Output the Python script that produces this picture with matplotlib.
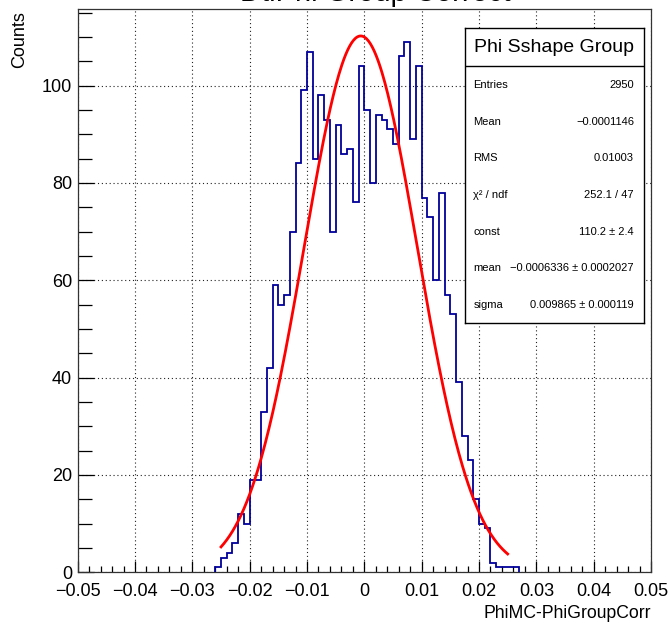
import numpy as np
import matplotlib
matplotlib.use('Agg')
import matplotlib.pyplot as plt
from matplotlib.ticker import MultipleLocator, FuncFormatter

plt.rcParams['font.family'] = ['Liberation Sans', 'DejaVu Sans']

# histogram: 0.001 wide bins, first filled bin starts at -0.026
first_edge = -0.026
bin_width = 0.001
counts = [1, 3, 4, 6, 12, 10, 19, 19, 33, 42,
          59, 55, 57, 70, 84, 99, 107, 85, 98, 93,
          70, 92, 86, 87, 76, 104, 95, 80, 94, 93,
          91, 88, 106, 109, 89, 104, 77, 73, 60, 78,
          57, 53, 39, 28, 23, 15, 10, 9, 2, 1,
          1, 1, 1]

# gaussian fit result
fit_const = 110.2
fit_mean = -0.0006336
fit_sigma = 0.009865
fit_lo, fit_hi = -0.025, 0.025

stat_names = ['Entries', 'Mean', 'RMS', 'χ² / ndf', 'const', 'mean', 'sigma']
stat_values = ['2950', '−0.0001146', '0.01003', '252.1 / 47', '110.2 ± 2.4',
               '−0.0006336 ± 0.0002027', '0.009865 ± 0.000119']

W, H = 669, 623
fig = plt.figure(figsize=(W / 100, H / 100), dpi=100)
fig.patch.set_facecolor('white')

# frame in pixels: left, right, top, bottom
fl, fr, ft, fb = 77.7, 651.0, 8.7, 572.3
ax = fig.add_axes([fl / W, 1 - fb / H, (fr - fl) / W, (fb - ft) / H])

edges = first_edge + bin_width * np.arange(len(counts) + 1)
ax.stairs(counts, edges, color='#000099', lw=1.3, baseline=0, zorder=3)

xf = np.linspace(fit_lo, fit_hi, 300)
yf = fit_const * np.exp(-0.5 * ((xf - fit_mean) / fit_sigma) ** 2)
ax.plot(xf, yf, color='#ff0000', lw=2.0, zorder=4)

ax.set_xlim(-0.05, 0.05)
ax.set_ylim(0, 115.8)

ax.xaxis.set_major_locator(MultipleLocator(0.01))
ax.xaxis.set_minor_locator(MultipleLocator(0.002))
ax.yaxis.set_major_locator(MultipleLocator(20))
ax.yaxis.set_minor_locator(MultipleLocator(5))


def xfmt(v, pos):
    if abs(v) < 1e-9:
        return '0'
    return f'{v:.2f}'.replace('-', '−')


ax.xaxis.set_major_formatter(FuncFormatter(xfmt))
ax.yaxis.set_major_formatter(FuncFormatter(lambda v, pos: f'{v:.0f}'))

ax.tick_params(axis='both', which='both', direction='in', top=False, right=False,
               labelsize=13, width=0.9, color='black')
ax.tick_params(axis='x', which='major', length=8, pad=7.5)
ax.tick_params(axis='x', which='minor', length=4)
ax.tick_params(axis='y', which='major', length=11.5, pad=4)
ax.tick_params(axis='y', which='minor', length=10)

ax.grid(True, which='major', ls=(0, (1, 2.5)), color='#222222', lw=0.8)
ax.set_axisbelow(True)
for sp in ax.spines.values():
    sp.set_linewidth(0.9)
    sp.set_color('#333333')

# axis titles, placed ROOT style
fig.text(fr / W, 1 - 618 / H, 'PhiMC-PhiGroupCorr', ha='right', va='baseline', fontsize=12.7)
fig.text(20 / W, 1 - 11 / H, 'Counts', ha='center', va='top', rotation=90, fontsize=13)

# histogram title, mostly cut by the top edge
fig.text(375 / W, 1 - 1 / H, 'DtlPhi Group Correct', ha='center', va='baseline', fontsize=21)

# stats box
bl, br, bt, bb = 464.7, 644.3, 28.3, 322.7
box = fig.add_axes([bl / W, 1 - bb / H, (br - bl) / W, (bb - bt) / H])
box.set_xlim(bl, br)
box.set_ylim(bb, bt)
box.set_xticks([])
box.set_yticks([])
box.set_facecolor('white')
for sp in box.spines.values():
    sp.set_linewidth(1.0)
    sp.set_color('black')
box.axhline(65.7, color='black', lw=1.0)
box.text((bl + br) / 2, 47, 'Phi Sshape Group', ha='center', va='center', fontsize=14)

row_y = 85
for name, val in zip(stat_names, stat_values):
    box.text(473.3, row_y, name, ha='left', va='center', fontsize=8)
    box.text(634, row_y, val, ha='right', va='center', fontsize=8)
    row_y += 36.7

fig.savefig('out.png', dpi=100)
